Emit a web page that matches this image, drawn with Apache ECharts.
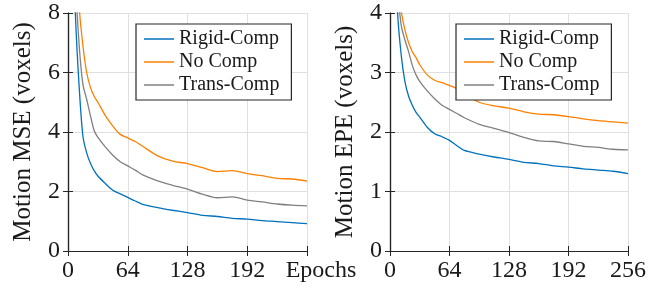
<!DOCTYPE html>
<html>
<head>
<meta charset="utf-8">
<script src="https://cdn.jsdelivr.net/npm/echarts@6/dist/echarts.min.js"></script>
<style>
  html, body { margin: 0; padding: 0; background: #fff; }
  #chart { width: 661px; height: 290px; }
</style>
</head>
<body>
<div id="chart"></div>
<script>
var epochs = [4, 8, 12, 16, 20, 24, 28, 32, 40, 48, 56, 64, 72, 80, 96, 112, 128, 144, 160, 176, 192, 208, 224, 240, 256]

// Motion MSE (voxels)
var mseRigid = [12, 7.9, 5.5, 3.85, 3.3, 2.95, 2.7, 2.52, 2.27, 2.04, 1.92, 1.8, 1.68, 1.57, 1.46, 1.37, 1.29, 1.2, 1.16, 1.1, 1.07, 1.02, 0.99, 0.955, 0.92]
var mseNoComp = [16, 11, 8.2, 6.9, 6.0, 5.5, 5.2, 5.0, 4.55, 4.2, 3.92, 3.8, 3.68, 3.52, 3.2, 3.02, 2.94, 2.8, 2.67, 2.7, 2.6, 2.53, 2.44, 2.42, 2.35]
var mseTrans = [14, 9.2, 6.9, 5.6, 5.1, 4.55, 4.05, 3.82, 3.5, 3.22, 3.0, 2.86, 2.72, 2.56, 2.36, 2.21, 2.08, 1.91, 1.79, 1.82, 1.71, 1.65, 1.58, 1.54, 1.52]

// Motion EPE (voxels)
var epeRigid = [6, 4.05, 3.3, 2.85, 2.6, 2.45, 2.33, 2.25, 2.08, 1.97, 1.92, 1.86, 1.77, 1.69, 1.63, 1.58, 1.54, 1.49, 1.47, 1.43, 1.41, 1.38, 1.36, 1.34, 1.3]
var epeNoComp = [8, 5, 4.05, 3.72, 3.5, 3.35, 3.25, 3.13, 2.96, 2.87, 2.83, 2.78, 2.73, 2.64, 2.5, 2.44, 2.4, 2.34, 2.3, 2.29, 2.26, 2.22, 2.19, 2.17, 2.15]
var epeTrans = [7, 4.5, 3.8, 3.55, 3.35, 3.12, 2.96, 2.85, 2.69, 2.56, 2.45, 2.38, 2.31, 2.24, 2.13, 2.06, 1.99, 1.91, 1.85, 1.84, 1.8, 1.76, 1.74, 1.71, 1.7]

var names = ['Rigid-Comp', 'No Comp', 'Trans-Comp']
var colors = ['#0072BD', '#FF8000', '#808080']

var font = 'Liberation Serif'
var ink = '#1a1a1a'
var boxColor = '#262626'

function pairs(ys) {
  return epochs.map(function(e, i) { return [e, ys[i]] })
}

function line(name, ys, idx) {
  var c = colors[names.indexOf(name)]
  return {
    name: name,
    type: 'line',
    xAxisIndex: idx * 2,
    yAxisIndex: idx * 2,
    data: pairs(ys),
    symbol: 'none',
    smooth: 0.3,
    clip: true,
    lineStyle: { width: 1.3, color: c },
    itemStyle: { color: c },
    z: 3
  }
}

function bottomX(gridIndex, labelFn) {
  return {
    type: 'value', gridIndex: gridIndex, position: 'bottom',
    min: 0, max: 256, interval: 64,
    axisLine: { lineStyle: { color: boxColor, width: 1.2 } },
    axisTick: { inside: true, length: 5, lineStyle: { color: boxColor } },
    splitLine: { show: true, lineStyle: { color: '#e0e0e0', width: 1 } },
    axisLabel: {
      fontFamily: font, fontSize: 24, color: ink, margin: 8,
      formatter: labelFn,
      rich: { ep: { fontFamily: font, fontSize: 24, color: ink, padding: [0, 0, 0, 28] } }
    }
  }
}

function topX(gridIndex) {
  return {
    type: 'value', gridIndex: gridIndex, position: 'top',
    min: 0, max: 256, interval: 64,
    axisLine: { lineStyle: { color: boxColor, width: 1.2 } },
    axisTick: { inside: true, length: 5, lineStyle: { color: boxColor } },
    splitLine: { show: false },
    axisLabel: { show: false }
  }
}

function leftY(gridIndex, max, step, title) {
  return {
    type: 'value', gridIndex: gridIndex, position: 'left',
    min: 0, max: max, interval: step,
    name: title, nameLocation: 'middle', nameGap: 32,
    nameTextStyle: { fontFamily: font, fontSize: 25, color: ink },
    axisLine: { show: true, lineStyle: { color: boxColor, width: 1.2 } },
    axisTick: { show: true, inside: true, length: 5, lineStyle: { color: boxColor } },
    splitLine: { show: true, lineStyle: { color: '#e0e0e0', width: 1 } },
    axisLabel: { fontFamily: font, fontSize: 24, color: ink, margin: 8 }
  }
}

function rightY(gridIndex, max, step) {
  return {
    type: 'value', gridIndex: gridIndex, position: 'right',
    min: 0, max: max, interval: step,
    axisLine: { show: true, lineStyle: { color: boxColor, width: 1.2 } },
    axisTick: { show: true, inside: true, length: 5, lineStyle: { color: boxColor } },
    splitLine: { show: false },
    axisLabel: { show: false }
  }
}

function legendAt(left) {
  return {
    data: names,
    orient: 'vertical',
    left: left, top: 24,
    icon: 'rect',
    itemWidth: 30, itemHeight: 1.5, itemGap: 3,
    padding: [5, 12, 5, 8],
    backgroundColor: '#fff',
    borderColor: boxColor, borderWidth: 1.2,
    textStyle: { fontFamily: font, fontSize: 20, color: ink },
    selectedMode: false
  }
}

var chart = echarts.init(document.getElementById('chart'))
var option = {
  animation: false,
  backgroundColor: '#fff',
  grid: [
    { left: 68, top: 13, width: 239, height: 238 },
    { left: 390, top: 13, width: 238, height: 238 }
  ],
  xAxis: [
    bottomX(0, function(v) { return v === 256 ? '{ep|Epochs}' : String(v) }),
    topX(0),
    bottomX(1, function(v) { return String(v) }),
    topX(1)
  ],
  yAxis: [
    leftY(0, 8, 2, 'Motion MSE (voxels)'),
    rightY(0, 8, 2),
    leftY(1, 4, 1, 'Motion EPE (voxels)'),
    rightY(1, 4, 1)
  ],
  legend: [legendAt(136), legendAt(456)],
  series: [
    line('Rigid-Comp', mseRigid, 0),
    line('No Comp', mseNoComp, 0),
    line('Trans-Comp', mseTrans, 0),
    line('Rigid-Comp', epeRigid, 1),
    line('No Comp', epeNoComp, 1),
    line('Trans-Comp', epeTrans, 1)
  ]
}
chart.setOption(option)
</script>
</body>
</html>
